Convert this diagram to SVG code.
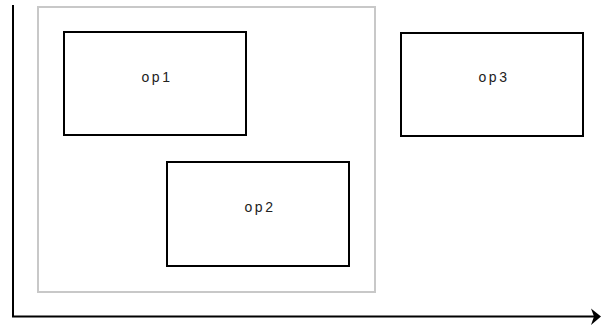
<svg xmlns="http://www.w3.org/2000/svg" width="601" height="326" viewBox="0 0 601 326">
<style>
.node{fill:#fff;stroke:#000;stroke-width:2}
.lbl{font-family:"Liberation Sans",Arial,sans-serif;font-size:14px;letter-spacing:2.5px;fill:#222;text-anchor:middle}
.axis{fill:none;stroke:#000;stroke-width:2}
</style>
<rect width="601" height="326" fill="#fff"/>
<g id="group">
<rect x="38" y="7" width="337" height="285" fill="none" stroke="#c8c8c8" stroke-width="2"/>
</g>
<g id="connectors">
<path class="axis" d="M13,5 V316.5 H594"/>
<path d="M601,316.5 L591,308.5 L594,316.5 L591,325 Z" fill="#000"/>
</g>
<g id="op1">
<rect class="node" x="64" y="32" width="182" height="103"/>
<text class="lbl" x="157" y="82">op1</text>
</g>
<g id="op2">
<rect class="node" x="167" y="162" width="182" height="104"/>
<text class="lbl" x="260" y="212">op2</text>
</g>
<g id="op3">
<rect class="node" x="401" y="33" width="182" height="103"/>
<text class="lbl" x="494" y="82">op3</text>
</g>
</svg>
